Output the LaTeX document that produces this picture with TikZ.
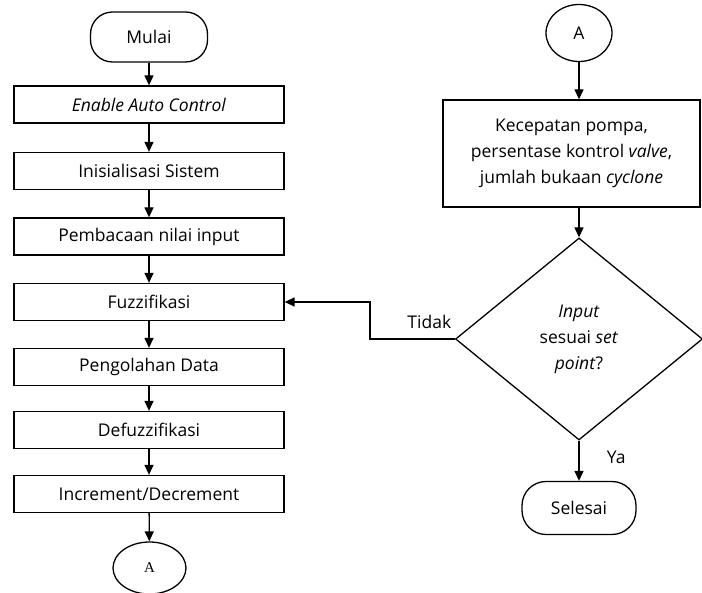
\documentclass[tikz,border=0pt]{standalone}
\usepackage{fontspec}
\setmainfont{Open Sans}
\newfontfamily\serifhuruf{Liberation Serif}
\usetikzlibrary{positioning, shapes.geometric, arrows.meta}

\begin{document}
\begin{tikzpicture}[x=1pt, y=-1pt, line width=1.3pt,
  font=\fontsize{17.5}{26}\selectfont,
  proses/.style={draw, rectangle, minimum width=270pt, minimum height=37pt, inner sep=0pt},
  terminal/.style={draw, rectangle, rounded corners=22pt, minimum width=117pt, minimum height=50pt},
  konektor/.style={draw, ellipse, inner sep=0pt},
  keputusan/.style={draw, diamond, inner sep=0pt, align=center, minimum width=247pt, minimum height=202pt},
  panah/.style={-{Triangle[length=10pt, width=9pt]}}]
  \useasboundingbox (0,0) rectangle (702,593);

  % kolom kiri
  \node[terminal] (mulai) at (149,37) {Mulai};
  \foreach \i/\teks/\y in {1/{\textit{Enable Auto Control}}/104.5,
                           2/{Inisialisasi Sistem}/171,
                           3/{Pembacaan nilai input}/236.5,
                           4/{Fuzzifikasi}/302,
                           5/{Pengolahan Data}/367,
                           6/{Defuzzifikasi}/430,
                           7/{Increment/Decrement}/494} {
    \node[proses] (p\i) at (149,\y) {\teks};
  }
  \node[konektor, minimum width=73pt, minimum height=52pt, font=\serifhuruf\fontsize{15}{18}\selectfont] (a1) at (149.5,568) {A};

  \draw[panah] (mulai) -- (p1);
  \foreach \i [evaluate=\i as \j using int(\i+1)] in {1,...,6} {
    \draw[panah] (p\i) -- (p\j);
  }
  \draw[panah] (p7) -- (a1);

  % kolom kanan
  \node[konektor, minimum width=66pt, minimum height=57pt] (a2) at (579,33) {A};
  \node[proses, minimum width=257pt, minimum height=107pt, align=center] (kotak) at (571.5,153.5)
    {Kecepatan pompa,\\ persentase kontrol \textit{valve},\\ jumlah bukaan \textit{cyclone}};
  \node[keputusan] (kep) at (579,339)
    {\textit{Input}\\ sesuai \textit{set}\\ \textit{point}?};
  \node[terminal, minimum width=114pt, minimum height=53pt, rounded corners=24pt] (selesai) at (579,508) {Selesai};

  \draw[panah] (a2) -- (a2 |- kotak.north);
  \draw[panah] (kotak.south -| kep) -- (kep.north);
  \draw[panah] (kep.south) -- node[pos=0.42, right=24pt] {Ya} (selesai);
  \draw[panah] (kep.west) -- ++(-85,0) node[pos=0.3, above=6pt] {Tidak} |- (p4.east);
\end{tikzpicture}
\end{document}
